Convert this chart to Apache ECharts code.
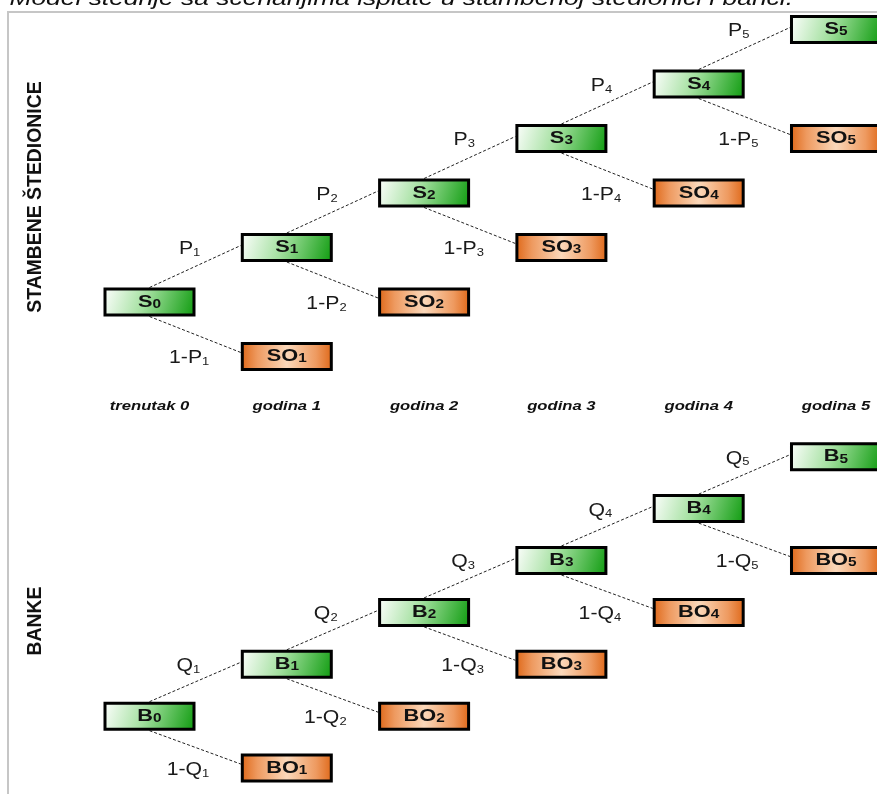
<!DOCTYPE html>
<html>
<head>
<meta charset="utf-8">
<script src="https://cdn.jsdelivr.net/npm/echarts@6/dist/echarts.min.js"></script>
<style>
html, body { margin: 0; padding: 0; background: #fff; }
#chart { width: 877px; height: 794px; }
</style>
</head>
<body>
<div id="chart"></div>
<script>
// periods (columns of the tree)
const periods = ['trenutak 0', 'godina 1', 'godina 2', 'godina 3', 'godina 4', 'godina 5'];
// vertical level of each node per period
const stayLevels = [0, 1, 2, 3, 4, 5];       // S_k / B_k  (stays in the scheme)
const exitLevels = [null, -1, 0, 1, 2, 3];   // SO_k / BO_k (pays out)
const trees = [
  { stay: 'S', exit: 'SO', prob: 'P', side: 'STAMBENE ŠTEDIONICE' },
  { stay: 'B', exit: 'BO', prob: 'Q', side: 'BANKE' }
];
const periodLabelLevel = -1.91;
const titleText = 'Slika 1. Model štednje sa scenarijima isplate u stambenoj štedionici i banci.';

const FONT = '"Liberation Sans", Arial, sans-serif';
const BOX_W = 89, BOX_H = 26; // inner rect, 3px border on top

const greenFill = new echarts.graphic.LinearGradient(0, 0, 1, 1, [
  { offset: 0, color: '#ffffff' },
  { offset: 0.45, color: '#a3e09f' },
  { offset: 1, color: '#0c9a0c' }
]);
const orangeFill = new echarts.graphic.LinearGradient(0, 0, 1, 0, [
  { offset: 0, color: '#de6616' },
  { offset: 0.18, color: '#ee9a60' },
  { offset: 0.5, color: '#fbd8ba' },
  { offset: 0.82, color: '#ee9a60' },
  { offset: 1, color: '#de6616' }
]);

function nodesOf(t) {
  const out = [];
  periods.forEach((p, k) => {
    out.push({ k: k, level: stayLevels[k], name: t.stay, kind: 'stay' });
    if (exitLevels[k] != null) out.push({ k: k, level: exitLevels[k], name: t.exit, kind: 'exit' });
  });
  return out;
}

function edgesOf(t) {
  const out = [];
  for (let k = 1; k < periods.length; k++) {
    out.push({ from: [k - 1, stayLevels[k - 1]], to: [k, stayLevels[k]], prob: t.prob, k: k, up: true });
    out.push({ from: [k - 1, stayLevels[k - 1]], to: [k, exitLevels[k]], prob: t.prob, k: k, up: false });
  }
  return out;
}

function edgeRender(edges) {
  return function (params, api) {
    const e = edges[params.dataIndex];
    const a = api.coord([api.value(0), api.value(1)]);
    const b = api.coord([api.value(2), api.value(3)]);
    const y0 = a[1] + (e.up ? -BOX_H / 2 - 1.5 : BOX_H / 2 + 1.5);
    const x1 = b[0] - BOX_W / 2 - 1.5;
    const y1 = b[1] + (e.up ? -2 : -4);
    const txt = (e.up ? '{m|' : '{m|1-') + e.prob + '}{s|' + e.k + '}';
    return {
      type: 'group',
      children: [
        {
          type: 'line',
          shape: { x1: a[0], y1: y0, x2: x1, y2: y1 },
          style: { stroke: '#222', lineWidth: 1, lineDash: [3, 2] }
        },
        {
          type: 'text',
          x: b[0] - BOX_W / 2 - (e.up ? 42 : 33),
          y: b[1] + 2,
          scaleX: 1.18,
          style: {
            text: txt,
            align: 'right',
            verticalAlign: 'middle',
            rich: {
              m: { fontSize: 18, fontFamily: FONT, fill: '#1a1a1a', verticalAlign: 'bottom' },
              s: { fontSize: 11, fontFamily: FONT, fill: '#1a1a1a', verticalAlign: 'bottom' }
            }
          }
        }
      ]
    };
  };
}

function boxRender(nodes) {
  return function (params, api) {
    const n = nodes[params.dataIndex];
    const c = api.coord([api.value(0), api.value(1)]);
    return {
      type: 'group',
      children: [
        {
          type: 'rect',
          shape: { x: c[0] - BOX_W / 2, y: c[1] - BOX_H / 2, width: BOX_W, height: BOX_H },
          style: { fill: n.kind === 'stay' ? greenFill : orangeFill, stroke: '#000', lineWidth: 3 }
        },
        {
          type: 'text',
          x: c[0],
          y: c[1],
          scaleX: 1.28,
          style: {
            text: '{m|' + n.name + '}{s|' + n.k + '}',
            align: 'center',
            verticalAlign: 'middle',
            rich: {
              m: { fontSize: 17, fontWeight: 'bold', fontFamily: FONT, fill: '#111', verticalAlign: 'bottom' },
              s: { fontSize: 12, fontWeight: 'bold', fontFamily: FONT, fill: '#111', verticalAlign: 'bottom' }
            }
          }
        }
      ]
    };
  };
}

function periodRender(params, api) {
  const c = api.coord([api.value(0), api.value(1)]);
  return {
    type: 'text',
    x: c[0],
    y: c[1],
    scaleX: 1.28,
    style: {
      text: periods[params.dataIndex],
      align: 'center',
      verticalAlign: 'middle',
      fontSize: 13,
      fontStyle: 'italic',
      fontWeight: 'bold',
      fontFamily: FONT,
      fill: '#111'
    }
  };
}

const grids = [], xAxes = [], yAxes = [], series = [];
trees.forEach((t, i) => {
  grids.push({ left: 80.85, width: 782.6, top: i === 0 ? 13.15 : 441.15, height: 370.6 });
  xAxes.push({ type: 'value', gridIndex: i, min: -0.5, max: 5.2, show: false });
  yAxes.push({ type: 'value', gridIndex: i, min: -1.5, max: 5.3, show: false });

  const edges = edgesOf(t);
  series.push({
    type: 'custom',
    xAxisIndex: i, yAxisIndex: i,
    silent: true,
    z: 1,
    renderItem: edgeRender(edges),
    data: edges.map(e => [e.from[0], e.from[1], e.to[0], e.to[1]])
  });
  const nodes = nodesOf(t);
  series.push({
    type: 'custom',
    xAxisIndex: i, yAxisIndex: i,
    silent: true,
    z: 2,
    renderItem: boxRender(nodes),
    data: nodes.map(n => [n.k, n.level])
  });
});
series.push({
  type: 'custom',
  xAxisIndex: 0, yAxisIndex: 0,
  silent: true,
  renderItem: periodRender,
  data: periods.map((p, k) => [k, periodLabelLevel])
});

const myChart = echarts.init(document.getElementById('chart'));
myChart.setOption({
  animation: false,
  grid: grids,
  xAxis: xAxes,
  yAxis: yAxes,
  graphic: [
    {
      type: 'polyline',
      silent: true,
      shape: { points: [[8, 794], [8, 12], [877, 12]] },
      style: { stroke: '#c6c6c6', lineWidth: 2, fill: 'none' }
    },
    {
      type: 'text',
      x: 793, y: -1,
      scaleX: 1.32,
      style: { text: titleText, align: 'right', verticalAlign: 'middle', fontSize: 20, fontStyle: 'italic', fontFamily: FONT, fill: '#111' }
    },
    {
      type: 'text',
      x: 36, y: 197,
      rotation: Math.PI / 2,
      style: { text: trees[0].side, align: 'center', verticalAlign: 'middle', fontSize: 19.4, fontWeight: 'bold', fontFamily: FONT, fill: '#111' }
    },
    {
      type: 'text',
      x: 36, y: 621,
      rotation: Math.PI / 2,
      style: { text: trees[1].side, align: 'center', verticalAlign: 'middle', fontSize: 19.4, fontWeight: 'bold', fontFamily: FONT, fill: '#111' }
    }
  ],
  series: series
});
window.addEventListener('resize', () => { myChart.resize(); });
</script>
</body>
</html>
